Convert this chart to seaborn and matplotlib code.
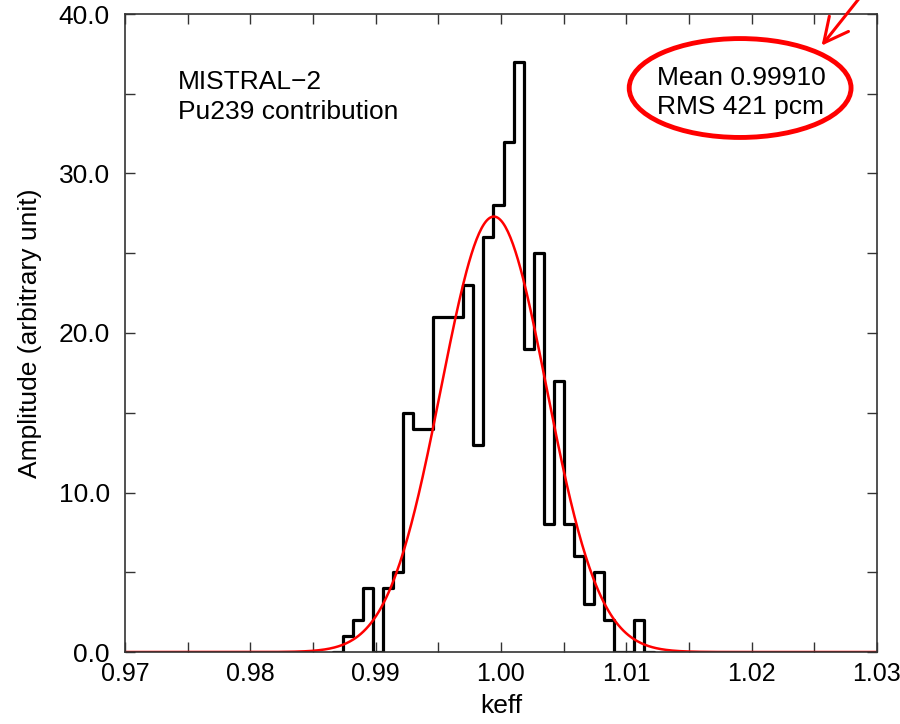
"""
MISTRAL-2 keff distribution (Pu239 contribution) with a gaussian fit.
"""
import numpy as np
import pandas as pd
import matplotlib
matplotlib.use("Agg")
import matplotlib.pyplot as plt
from matplotlib.patches import Ellipse
from matplotlib.ticker import MultipleLocator, FormatStrFormatter
import seaborn as sns

# histogram: 30 bins of width 0.0008
bin_start = 0.9874
bin_width = 0.0008
counts = [1, 2, 4, 0, 4, 5, 15, 14, 14, 21,
          21, 21, 23, 13, 26, 28, 32, 37, 19, 25,
          8, 17, 8, 6, 3, 5, 2, 0, 0, 2]

# gaussian fit drawn in red
fit_center = 0.99943
fit_sigma = 0.00421
fit_peak = 27.3

stats_text = "Mean 0.99910\nRMS 421 pcm"
label_text = "MISTRAL\u22122\nPu239 contribution"


def main():
    sns.set_style("ticks")
    plt.rcParams["font.family"] = ["Liberation Sans", "DejaVu Sans"]
    plt.rcParams["text.color"] = "black"
    plt.rcParams["axes.labelcolor"] = "black"
    plt.rcParams["xtick.labelcolor"] = "black"
    plt.rcParams["ytick.labelcolor"] = "black"

    # one empty bin on each side so the outline drops to zero at both ends
    padded = [0] + counts + [0]
    edges = [bin_start + bin_width * (i - 1) for i in range(len(padded) + 1)]
    centers = [e + bin_width / 2 for e in edges[:-1]]
    hist = pd.DataFrame({"keff": centers, "amp": padded})

    xs = np.linspace(0.97, 1.03, 600)
    fit = pd.DataFrame({"keff": xs,
                        "amp": fit_peak * np.exp(-0.5 * ((xs - fit_center) / fit_sigma) ** 2)})

    fig = plt.figure(figsize=(9, 7.24), dpi=100)
    ax = fig.add_axes([125 / 900, 72 / 724, 752 / 900, 638 / 724])

    sns.histplot(data=hist, x="keff", weights="amp", bins=edges, element="step",
                 fill=False, color="black", linewidth=2.3, ax=ax)
    sns.lineplot(data=fit, x="keff", y="amp", color="red", linewidth=1.8, ax=ax)

    ax.set_xlim(0.97, 1.03)
    ax.set_ylim(0, 40)
    ax.xaxis.set_major_locator(MultipleLocator(0.01))
    ax.xaxis.set_minor_locator(MultipleLocator(0.005))
    ax.yaxis.set_major_locator(MultipleLocator(10))
    ax.yaxis.set_minor_locator(MultipleLocator(5))
    ax.xaxis.set_major_formatter(FormatStrFormatter("%.2f"))
    ax.yaxis.set_major_formatter(FormatStrFormatter("%.1f"))
    ax.tick_params(which="both", direction="in", top=True, right=True,
                   length=7, width=1, color="#333333")
    ax.tick_params(axis="x", labelsize=18, pad=7, labelcolor="black")
    ax.tick_params(axis="y", labelsize=19, pad=11, labelcolor="black")
    for sp in ax.spines.values():
        sp.set_color("#333333")
        sp.set_linewidth(1.2)

    ax.set_xlabel("keff", fontsize=19, labelpad=6, color="black")
    ax.set_ylabel("Amplitude (arbitrary unit)", fontsize=19, labelpad=12, color="black")

    ax.text(0.07, 0.912, label_text, transform=ax.transAxes, fontsize=19,
            va="top", ha="left", linespacing=1.3, color="black")
    ax.text(0.707, 0.918, stats_text, transform=ax.transAxes, fontsize=19,
            va="top", ha="left", linespacing=1.25, color="black")

    ax.add_patch(Ellipse((0.818, 0.884), 0.295, 0.155, transform=ax.transAxes,
                         fill=False, edgecolor="red", linewidth=3.5, clip_on=False))
    ax.annotate("", xy=(0.924, 0.947), xytext=(0.98, 1.03),
                xycoords="axes fraction", textcoords="axes fraction",
                arrowprops=dict(arrowstyle="->,head_length=0.8,head_width=0.4",
                                mutation_scale=22, color="red", linewidth=2.2),
                annotation_clip=False)

    fig.savefig("out.png", dpi=100)


if __name__ == "__main__":
    main()
